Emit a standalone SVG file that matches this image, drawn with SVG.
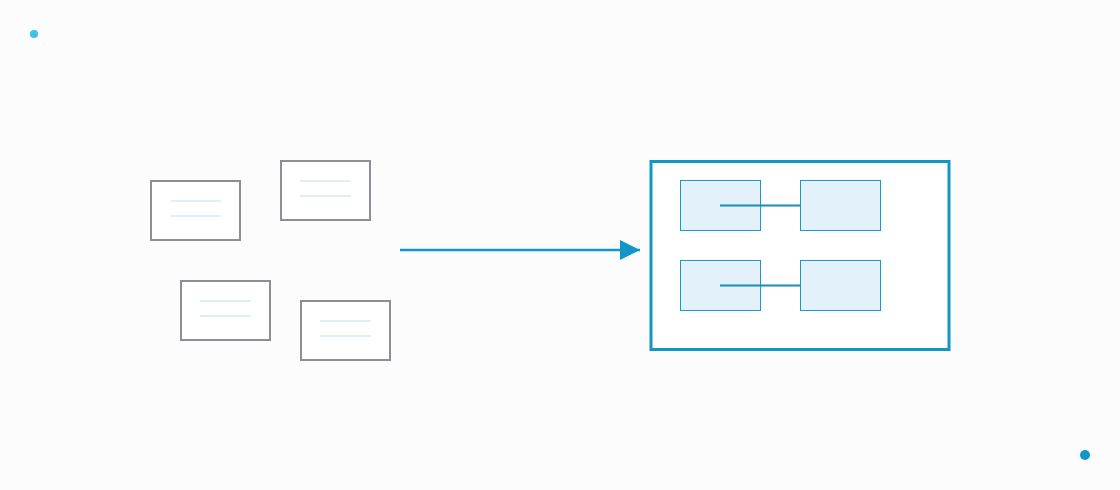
<svg xmlns="http://www.w3.org/2000/svg" width="1120" height="490" viewBox="0 0 1120 490">
<defs>
<style>
.card{fill:#ffffff;stroke:#8e8e96;stroke-width:2}
.txt{stroke:#e2eef6;stroke-width:2}
.inner{fill:#e3f2fa;stroke:#1a9ac2;stroke-width:1}
.link{stroke:#1590b2;stroke-width:2}
.outer{fill:#ffffff;stroke:#1296c2;stroke-width:3}
</style>
<marker id="arr" markerUnits="userSpaceOnUse" markerWidth="22" markerHeight="22" refX="20" refY="10" orient="auto">
<path d="M0,0 L20,10 L0,20 Z" fill="#1296c8"/>
</marker>
</defs>
<rect width="1120" height="490" fill="#fcfcfd"/>
<circle cx="34" cy="34" r="4" fill="#3fc0e8"/>
<circle cx="1085" cy="455" r="5" fill="#0e97c8"/>
<g id="card1">
<rect class="card" x="151" y="181" width="89" height="59"/>
<line class="txt" x1="171" y1="201" x2="221" y2="201"/>
<line class="txt" x1="171" y1="216" x2="221" y2="216"/>
</g>
<g id="card2">
<rect class="card" x="281" y="161" width="89" height="59"/>
<line class="txt" x1="300" y1="181" x2="351" y2="181"/>
<line class="txt" x1="300" y1="196" x2="351" y2="196"/>
</g>
<g id="card3">
<rect class="card" x="181" y="281" width="89" height="59"/>
<line class="txt" x1="200" y1="301" x2="251" y2="301"/>
<line class="txt" x1="200" y1="316" x2="251" y2="316"/>
</g>
<g id="card4">
<rect class="card" x="301" y="301" width="89" height="59"/>
<line class="txt" x1="320" y1="321" x2="371" y2="321"/>
<line class="txt" x1="320" y1="336" x2="371" y2="336"/>
</g>
<g id="system">
<rect class="outer" x="651" y="161.5" width="298" height="188"/>
<g id="a1"><rect class="inner" x="680.5" y="180.5" width="80" height="50"/></g>
<g id="b1"><rect class="inner" x="800.5" y="180.5" width="80" height="50"/></g>
<g id="a2"><rect class="inner" x="680.5" y="260.5" width="80" height="50"/></g>
<g id="b2"><rect class="inner" x="800.5" y="260.5" width="80" height="50"/></g>
</g>
<g id="connectors">
<line x1="400" y1="250" x2="640" y2="250" stroke="#1296c8" stroke-width="2.5" marker-end="url(#arr)"/>
<line class="link" x1="720" y1="205.5" x2="800" y2="205.5"/>
<line class="link" x1="720" y1="285.5" x2="800" y2="285.5"/>
</g>
</svg>
